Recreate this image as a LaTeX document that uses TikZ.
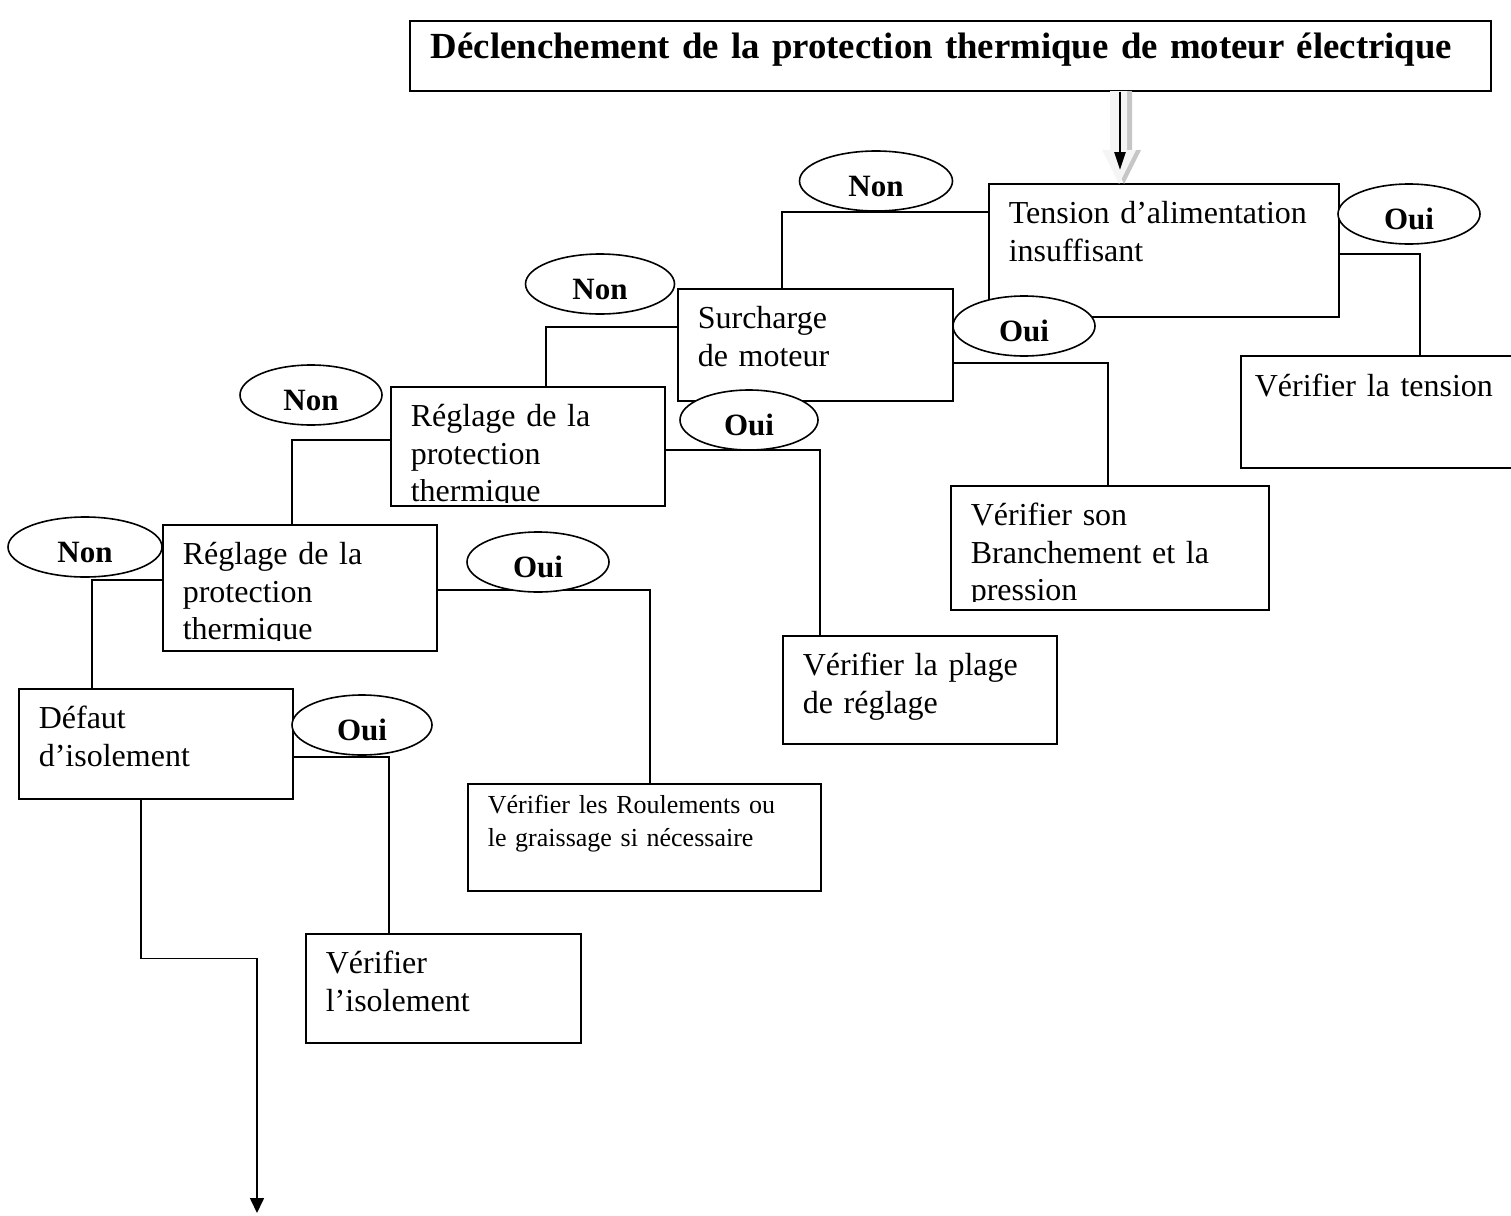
\documentclass[tikz,border=0pt]{standalone}
\usepackage{fontspec}
\setmainfont{Liberation Serif}
\usepackage{trimclip}
\usetikzlibrary{shapes.geometric,arrows.meta}

\begin{document}
\begin{tikzpicture}[x=1pt, y=-1pt,
  box/.style={draw, line width=1.6pt, fill=white, anchor=north west, align=left,
    inner xsep=20pt, inner ysep=0pt, text height=40pt, font=\fontsize{32}{37.5}\selectfont},
  oval/.style={draw, ellipse, line width=1.6pt, fill=white, inner sep=0pt,
    minimum width=142pt, minimum height=60pt, text height=30pt, text depth=0pt,
    font=\fontsize{31}{36}\selectfont\bfseries},
  link/.style={line width=1.6pt}
]
\useasboundingbox (0,0) rectangle (1511,1215);

% titre
\node[box, text width=1039pt, inner xsep=21pt, text height=38pt, text depth=32pt,
  font=\fontsize{36.8}{44}\selectfont\bfseries] (titre) at (409,20)
  {\mbox{Déclenchement de la protection thermique de moteur électrique}};

% boites
\node[box, text width=310pt, text depth=93pt] (tension) at (988,183) {Tension d’alimentation\\insuffisant};
\node[box, text width=252pt, inner xsep=14pt, text height=41pt, text depth=71pt] (vtension) at (1240,355) {Vérifier la tension};
\node[box, text width=235pt, text depth=72pt] (surcharge) at (677,288) {Surcharge\\de moteur};
\node[box, text width=278pt, text depth=84pt] (vbranch) at (950,485) {Vérifier son\\Branchement et la\\\clipbox{0pt 6pt 0pt 0pt}{pression}};
\node[box, text width=234pt, text depth=79pt] (reglage1) at (390,386) {Réglage de la\\protection\\\clipbox{0pt 6pt 0pt 0pt}{thermique}};
\node[box, text width=234pt, text depth=68pt] (vplage) at (782,635) {Vérifier la plage\\de réglage};
\node[box, text width=234pt, text depth=86pt] (reglage2) at (162,524) {Réglage de la\\protection\\\clipbox{0pt 6pt 0pt 0pt}{thermique}};
\node[box, text width=313pt, text height=30pt, text depth=77pt,
  font=\fontsize{26}{33}\selectfont] (vroul) at (467,783) {Vérifier les Roulements ou\\le graissage si nécessaire};
\node[box, text width=234pt, text depth=70pt] (defaut) at (18,688) {Défaut\\d’isolement};
\node[box, text width=235pt, text depth=69pt] (visol) at (305,933) {Vérifier\\l’isolement};

% fleche d'entree
\fill[gray!45] (1115,91) -- (1132,91) -- (1132,150) -- (1141,150) -- (1124,184) -- (1107,150) -- (1115,150) -- cycle;
\fill[gray!8] (1110,91) -- (1127,91) -- (1127,150) -- (1136,150) -- (1119,184) -- (1102,150) -- (1110,150) -- cycle;
\coordinate (pointe) at (1120,170);
\draw[link, line width=2.5pt, -{Triangle[length=18pt,width=11pt]}] ([xshift=711pt]titre.south west) -- (pointe);

% liaisons
\draw[link] ([yshift=-29pt]tension.north west) -| ([xshift=105pt]surcharge.north west);
\draw[link] ([yshift=-71pt]tension.north east) -| ([xshift=180pt]vtension.north west);
\draw[link] ([yshift=-39pt]surcharge.north west) -| ([xshift=156pt]reglage1.north west);
\draw[link] ([yshift=-75pt]surcharge.north east) -| ([xshift=158pt]vbranch.north west);
\draw[link] ([yshift=-54pt]reglage1.north west) -| ([xshift=130pt]reglage2.north west);
\draw[link] ([yshift=-64pt]reglage1.north east) -| ([xshift=38pt]vplage.north west);
\draw[link] ([yshift=-56pt]reglage2.north west) -| ([xshift=74pt]defaut.north west);
\draw[link] ([yshift=-66pt]reglage2.north east) -| ([xshift=183pt]vroul.north west);
\draw[link] ([yshift=-69pt]defaut.north east) -| ([xshift=84pt]visol.north west);
\coordinate (sortie) at (257,1213);
\draw[link, -{Triangle[length=15pt,width=14pt]}] ([xshift=123pt]defaut.south west) -- ++(0,159) -| (sortie);

% reponses
\node[oval, minimum width=153pt] (non1) at (876,181) {Non};
\node[oval] (oui1) at (1409,214) {Oui};
\node[oval, minimum width=149pt] (non2) at (600,284) {Non};
\node[oval] (oui2) at (1024,326) {Oui};
\node[oval] (non3) at (311,395) {Non};
\node[oval, minimum width=138pt] (oui3) at (749,420) {Oui};
\node[oval, minimum width=154pt] (non4) at (85,547) {Non};
\node[oval] (oui4) at (538,562) {Oui};
\node[oval, minimum width=140pt] (oui5) at (362,725) {Oui};
\end{tikzpicture}
\end{document}
